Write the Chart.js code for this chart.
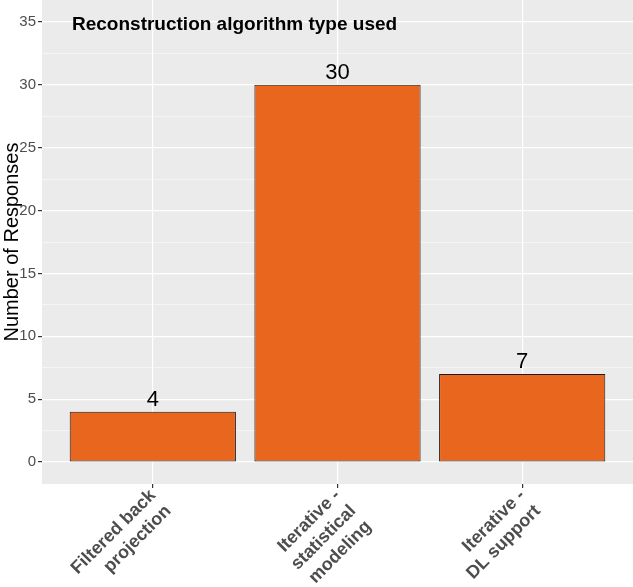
<!DOCTYPE html>
<html>
<head>
<meta charset="utf-8">
<script src="https://cdn.jsdelivr.net/npm/chart.js@4.4.1/dist/chart.umd.min.js"></script>
<style>
    html, body { margin: 0; padding: 0; background: #fff; }
    #wrap { width: 633px; height: 587px; position: relative; }
</style>
</head>
<body>
<div id="wrap"><canvas id="grafico"></canvas></div>
<script>
const categorias = [
    ['Filtered back', 'projection'],
    ['Iterative -', 'statistical', 'modeling'],
    ['Iterative -', 'DL support']
];
const posicoes = [1, 2, 3];
const respostas = [4, 30, 7];
const ticksMaiores = [0, 5, 10, 15, 20, 25, 30, 35];
const ticksMenores = [2.5, 7.5, 12.5, 17.5, 22.5, 27.5, 32.5];
const titulo = 'Reconstruction algorithm type used';

(function () {
    const fonte = '"Liberation Sans", Arial, sans-serif';

    const painel = {
        id: 'painel',
        beforeDraw(chart) {
            const a = chart.chartArea;
            const ctx = chart.ctx;
            ctx.save();
            ctx.fillStyle = '#EBEBEB';
            ctx.fillRect(a.left, a.top, a.right - a.left, a.bottom - a.top);
            ctx.restore();
        }
    };

    const rotulos = {
        id: 'rotulos',
        afterDatasetsDraw(chart) {
            const ctx = chart.ctx;
            const meta = chart.getDatasetMeta(0);
            ctx.save();
            ctx.font = '22px ' + fonte;
            ctx.fillStyle = '#000';
            ctx.textAlign = 'center';
            ctx.textBaseline = 'bottom';
            meta.data.forEach(function (barra, i) {
                ctx.fillText(String(respostas[i]), barra.x, barra.y - 1);
            });
            ctx.restore();
        }
    };

    const tituloInterno = {
        id: 'tituloInterno',
        afterDraw(chart) {
            const a = chart.chartArea;
            const ctx = chart.ctx;
            ctx.save();
            ctx.font = 'bold 19px ' + fonte;
            ctx.fillStyle = '#000';
            ctx.textAlign = 'left';
            ctx.textBaseline = 'middle';
            ctx.fillText(titulo, a.left + 30, a.top + 25);
            ctx.restore();
        }
    };

    new Chart(document.getElementById('grafico'), {
        type: 'bar',
        data: {
            datasets: [{
                data: posicoes.map(function (x, i) { return { x: x, y: respostas[i] }; }),
                backgroundColor: '#E9661F',
                borderColor: '#1A1A1A',
                borderWidth: 1,
                borderSkipped: false,
                categoryPercentage: 1,
                barPercentage: 0.9
            }]
        },
        options: {
            responsive: true,
            maintainAspectRatio: false,
            animation: false,
            layout: { padding: 0 },
            plugins: {
                legend: { display: false },
                tooltip: { enabled: false }
            },
            scales: {
                x: {
                    type: 'linear',
                    min: 0.4,
                    max: 3.6,
                    offset: false,
                    afterBuildTicks: function (scale) {
                        scale.ticks = posicoes.map(function (v) { return { value: v }; });
                    },
                    afterFit: function (scale) {
                        scale.height = 103;
                        scale.paddingLeft = 0;
                        scale.paddingRight = 0;
                    },
                    border: { display: false },
                    grid: {
                        offset: false,
                        color: '#FFFFFF',
                        lineWidth: 1.2,
                        tickColor: '#333333',
                        tickLength: 4
                    },
                    ticks: {
                        autoSkip: false,
                        minRotation: 45,
                        maxRotation: 45,
                        padding: -3,
                        color: '#4D4D4D',
                        font: { family: fonte, size: 18, weight: 'bold', lineHeight: 1.22 },
                        callback: function (v) { return categorias[v - 1]; }
                    }
                },
                y: {
                    min: -1.75,
                    max: 36.75,
                    afterBuildTicks: function (scale) {
                        scale.ticks = ticksMaiores.concat(ticksMenores)
                            .sort(function (a, b) { return a - b; })
                            .map(function (v) { return { value: v }; });
                    },
                    afterFit: function (scale) {
                        scale.width = 42;
                        scale.paddingTop = 0;
                        scale.paddingBottom = 0;
                    },
                    border: { display: false },
                    grid: {
                        color: '#FFFFFF',
                        lineWidth: function (c) {
                            return c.tick && ticksMaiores.includes(c.tick.value) ? 1.2 : 0.5;
                        },
                        tickColor: function (c) {
                            return c.tick && ticksMaiores.includes(c.tick.value) ? '#333333' : 'rgba(0,0,0,0)';
                        },
                        tickLength: 4
                    },
                    ticks: {
                        padding: 2,
                        color: '#4D4D4D',
                        font: { family: fonte, size: 15 },
                        callback: function (v) { return ticksMaiores.includes(v) ? v : ''; }
                    },
                    title: {
                        display: true,
                        text: 'Number of Responses',
                        color: '#000',
                        padding: 0,
                        font: { family: fonte, size: 20 }
                    }
                }
            }
        },
        plugins: [painel, rotulos, tituloInterno]
    });
})();
</script>
</body>
</html>
